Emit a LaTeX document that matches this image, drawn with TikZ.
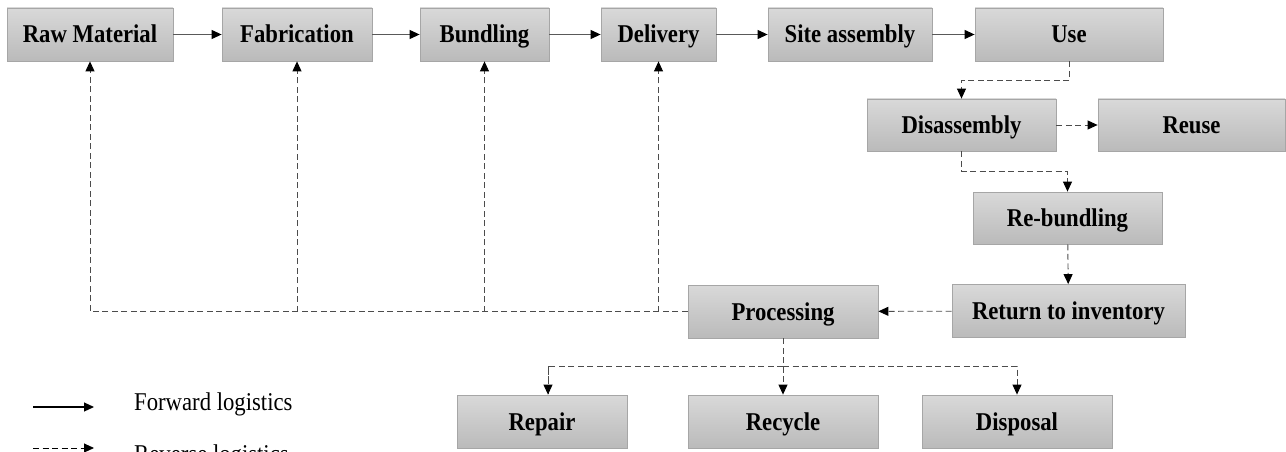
\documentclass[tikz,border=0pt]{standalone}
\usepackage{fontspec}
\setmainfont{Liberation Serif}[FakeStretch=0.887]
\usetikzlibrary{arrows.meta}
\begin{document}
\begin{tikzpicture}[x=1pt,y=-1pt,
  font=\fontsize{25.6}{29}\selectfont,
  tip/.style={-{Triangle[length=10pt,width=9pt,color=black]}},
  box/.style={draw=black!35, line width=0.8pt, top color=black!15, bottom color=black!27,
    minimum height=53pt, inner sep=0pt, text height=17pt, text depth=0pt,
    font=\fontsize{25.6}{29}\selectfont\bfseries},
  fwd/.style={draw=black!65, line width=1.1pt, tip},
  revline/.style={draw=black!70, line width=0.9pt, dash pattern=on 6pt off 3.5pt},
  rev/.style={revline, tip}]
\useasboundingbox (0,0) rectangle (1286,452);

% forward chain
\node[box, minimum width=166pt] (raw) at (90,34.5) {Raw Material};
\node[box, minimum width=150pt] (fab) at (297,34.5) {Fabrication};
\node[box, minimum width=129pt] (bun) at (484.5,34.5) {Bundling};
\node[box, minimum width=115pt] (del) at (658.5,34.5) {Delivery};
\node[box, minimum width=164pt] (site) at (850,34.5) {Site assembly};
\node[box, minimum width=188pt] (use) at (1069,34.5) {Use};

% reverse chain
\node[box, minimum width=189pt, minimum height=52pt] (dis) at (961.5,125) {Disassembly};
\node[box, minimum width=187pt, minimum height=52pt] (reuse) at (1191.5,125) {Reuse};
\node[box, minimum width=189pt, minimum height=52pt] (rebun) at (1067.5,218) {Re-bundling};
\node[box, minimum width=233pt] (ret) at (1068.5,311) {Return to inventory};
\node[box, minimum width=190pt] (proc) at (783,311.5) {Processing};
\node[box, minimum width=170pt] (rep) at (542,421.5) {Repair};
\node[box, minimum width=190pt] (rec) at (783,421.5) {Recycle};
\node[box, minimum width=190pt] (disp) at (1017,421.5) {Disposal};

\draw[fwd] (raw) -- (fab);
\draw[fwd] (fab) -- (bun);
\draw[fwd] (bun) -- (del);
\draw[fwd] (del) -- (site);
\draw[fwd] (site) -- (use);

\draw[rev] (use.south) -- ++(0,19) -| (dis.north);
\draw[rev] (dis) -- (reuse);
\draw[rev] (dis.south) -- ++(0,20) -| (rebun.north);
\draw[rev] (rebun) -- (ret);
\draw[rev] (ret) -- (proc);

% return flows back to the forward chain
\draw[rev] (proc.west) -| (raw.south);
\draw[rev] (fab.south |- proc.west) -- (fab.south);
\draw[rev] (bun.south |- proc.west) -- (bun.south);
\draw[rev] (del.south |- proc.west) -- (del.south);

% processing outcomes
\coordinate (split) at (783,366);
\draw[rev] (proc) -- (rec);
\draw[revline] (split) -| ([xshift=6pt]rep.north);
\draw[rev] ([xshift=6pt]rep.north |- split) -- ([xshift=6pt]rep.north);
\draw[rev] (split) -| (disp.north);

% legend
\coordinate (l1a) at (33,407);
\coordinate (l1b) at (94,407);
\coordinate (l2a) at (33,448);
\coordinate (l2b) at (94,448);
\draw[fwd, draw=black] (l1a) -- (l1b);
\draw[rev, draw=black] (l2a) -- (l2b);
\node[anchor=base west, inner sep=0pt] (lt1) at (134,410) {Forward logistics};
\node[anchor=base west, inner sep=0pt] (lt2) at (134,462) {Reverse logistics};
\end{tikzpicture}
\end{document}
